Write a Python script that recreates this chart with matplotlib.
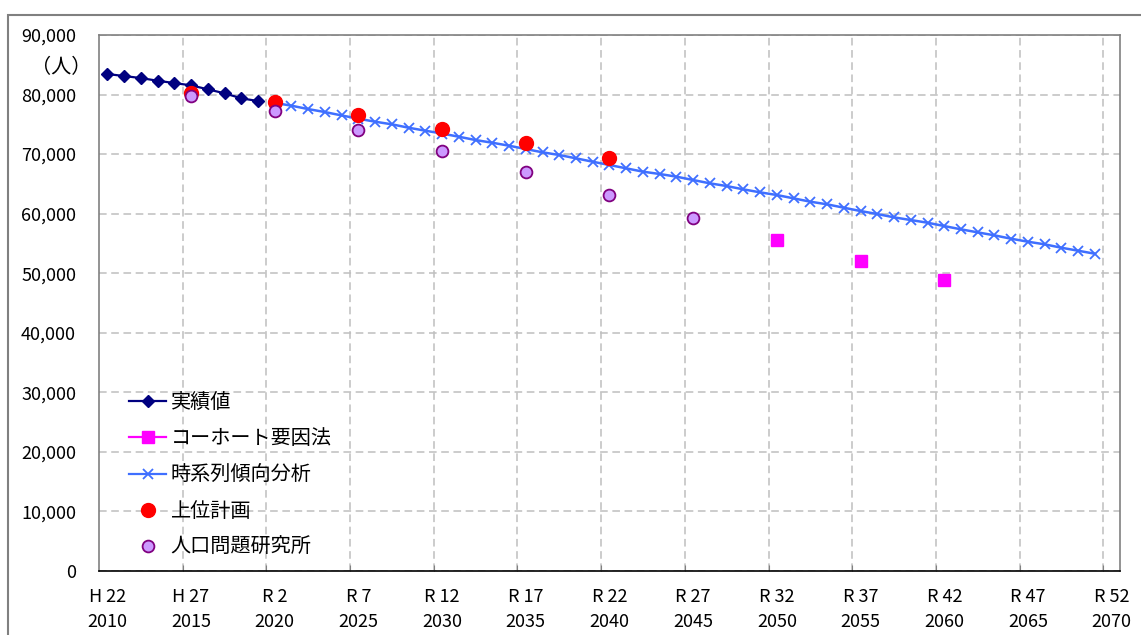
import numpy as np
import matplotlib
matplotlib.use("Agg")
import matplotlib.pyplot as plt
from matplotlib.lines import Line2D
from matplotlib.patches import Rectangle

plt.rcParams['font.family'] = ['Noto Sans CJK JP', 'DejaVu Sans']

# 実績値 (2010-2019)
actual_years = list(range(2010, 2020))
actual_pop = [83450, 83110, 82770, 82320, 81930, 81550, 80880, 80210, 79370, 78910]

# コーホート要因法
cohort_years = [2050, 2055, 2060]
cohort_pop = [55540, 52050, 48810]

# 時系列傾向分析 (2020-2069)
trend_years = list(range(2020, 2070))
trend_pop = [78600, 78130, 77560, 77060, 76490, 75950, 75440, 75000, 74430, 73930,
             73450, 72920, 72360, 71910, 71410, 70850, 70300, 69850, 69290, 68720,
             68170, 67610, 67050, 66660, 66210, 65650, 65090, 64640, 64080, 63580,
             63130, 62570, 62010, 61570, 61000, 60440, 59940, 59380, 58930, 58480,
             57920, 57370, 56860, 56360, 55790, 55290, 54850, 54280, 53780, 53270]

# 上位計画
plan_years = [2015, 2020, 2025, 2030, 2035, 2040]
plan_pop = [80310, 78690, 76560, 74160, 71810, 69290]

# 人口問題研究所
ipss_years = [2015, 2020, 2025, 2030, 2035, 2040, 2045]
ipss_pop = [79800, 77230, 74040, 70570, 66940, 63130, 59220]

label_years = list(range(2010, 2071, 5))
era_labels = ['H 22', 'H 27', 'R 2', 'R 7', 'R 12', 'R 17', 'R 22',
              'R 27', 'R 32', 'R 37', 'R 42', 'R 47', 'R 52']

fig = plt.figure(figsize=(11.41, 6.35), dpi=100)
ax = fig.add_axes([99 / 1141, 1 - 571 / 635, 1021 / 1141, 536 / 635])

# outer chart frame
fig.patches.append(Rectangle((8 / 1141, -0.2), 1.5, 0.2 + 1 - 15 / 635,
                             transform=fig.transFigure, fill=False,
                             edgecolor='#808080', linewidth=1.5))

navy = '#000080'
pink = '#FF00FF'
blue = '#3F6FFF'

ax.plot(actual_years, actual_pop, color=navy, lw=1.6, marker='D', ms=6.5, zorder=3)
ax.plot(cohort_years, cohort_pop, ls='none', marker='s', ms=8, color=pink, zorder=3)
ax.plot(trend_years, trend_pop, color=blue, lw=1.8, marker='x', ms=7, mew=1.3, zorder=4)
ax.plot(plan_years, plan_pop, ls='none', marker='o', ms=10, color='#FF0000', zorder=5)
ax.plot(ipss_years, ipss_pop, ls='none', marker='o', ms=8.5, markerfacecolor='#CC99FF',
        markeredgecolor='#800080', mew=1.3, zorder=6)

ax.set_xlim(2009.5, 2070.5)
ax.set_ylim(0, 90000)

ax.set_yticks(np.arange(0, 90001, 10000))
ax.set_yticklabels([f'{v:,}' for v in range(0, 90001, 10000)], fontsize=13)
ax.tick_params(axis='y', length=0, pad=16.5)

# category boundaries carry the ticks and grid, labels sit on the category
ax.set_xticks(np.arange(2014.5, 2070, 5))
ax.set_xticklabels([])
ax.tick_params(axis='x', which='major', direction='in', length=4, color='#808080')
ax.set_xticks(label_years, [f'{e}\n{y}' for e, y in zip(era_labels, label_years)], minor=True)
ax.tick_params(axis='x', which='minor', length=0, pad=12, labelsize=13)
for lbl in ax.get_xticklabels(minor=True):
    lbl.set_linespacing(1.55)

ax.grid(True, which='major', color='#BFBFBF', linestyle=(0, (5, 3)), linewidth=1.1)

for side in ['left', 'top', 'right']:
    ax.spines[side].set_color('#808080')
    ax.spines[side].set_linewidth(1.2)
ax.spines['bottom'].set_color('black')
ax.spines['bottom'].set_linewidth(1.2)

fig.text(61 / 1141, 1 - 68 / 635, '（人）', ha='center', va='center', fontsize=14.5)

handles = [
    Line2D([], [], color=navy, lw=1.6, marker='D', ms=6.5),
    Line2D([], [], color=pink, lw=1.6, marker='s', ms=8),
    Line2D([], [], color=blue, lw=1.6, marker='x', ms=7, mew=1.3),
    Line2D([], [], ls='none', marker='o', ms=10, color='#FF0000'),
    Line2D([], [], ls='none', marker='o', ms=8.5, markerfacecolor='#CC99FF',
           markeredgecolor='#800080', mew=1.3),
]
labels = ['実績値', 'コーホート要因法', '時系列傾向分析', '上位計画', '人口問題研究所']
ax.legend(handles, labels, loc='lower left', bbox_to_anchor=(0.012, -0.01),
          frameon=False, fontsize=14.5, handlelength=1.8, handletextpad=0.25,
          labelspacing=0.76)

fig.savefig('out.png', dpi=100)
